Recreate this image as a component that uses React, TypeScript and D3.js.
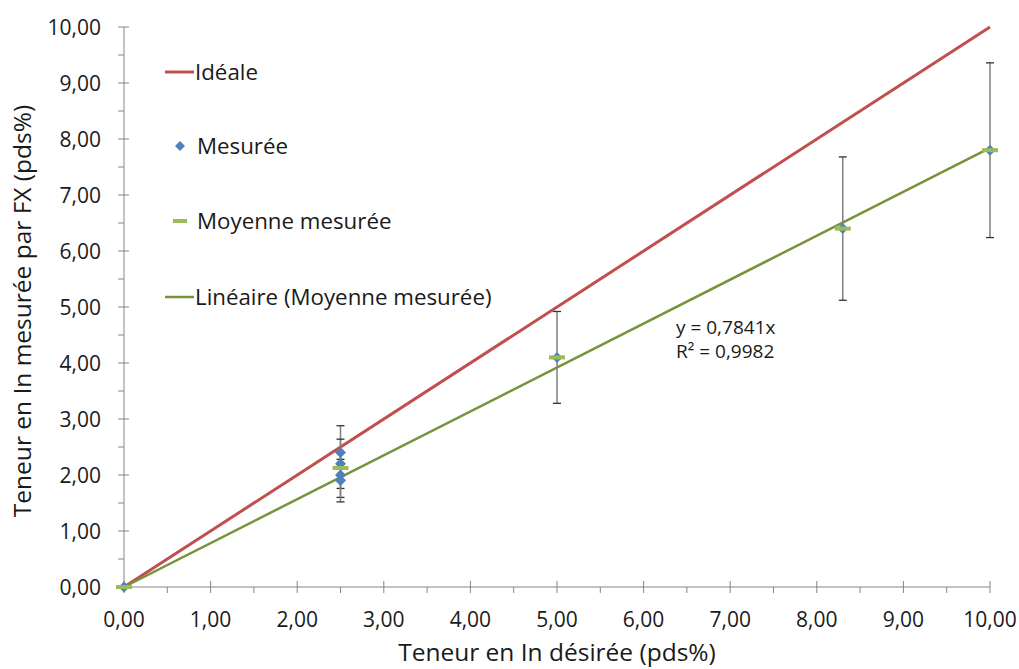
import React from "react";
import * as d3 from "d3";

const idealX = [0, 10];
const idealY = [0, 10];
const measuredX = [0, 2.5, 2.5, 2.5, 2.5, 5, 8.3, 10];
const measuredY = [0, 2.4, 2.2, 2.0, 1.9, 4.1, 6.4, 7.8];
const measuredErr = [0, 0.48, 0.44, 0.4, 0.38, 0.82, 1.28, 1.56];
const meanX = [0, 2.5, 5, 8.3, 10];
const meanY = [0, 2.125, 4.1, 6.4, 7.8];
const trendSlope = 0.7841;
const trendRange = [0, 10];
const xTicks = [0, 1, 2, 3, 4, 5, 6, 7, 8, 9, 10];
const yTicks = [0, 1, 2, 3, 4, 5, 6, 7, 8, 9, 10];
const minorTicks = [0.5, 1.5, 2.5, 3.5, 4.5, 5.5, 6.5, 7.5, 8.5, 9.5];
const legendLabels = ["Idéale", "Mesurée", "Moyenne mesurée", "Linéaire (Moyenne mesurée)"];
const eqLines = ["y = 0,7841x", "R² = 0,9982"];
const xTitle = "Teneur en In désirée (pds%)";
const yTitle = "Teneur en In mesurée par FX (pds%)";

const W = 1019, H = 669;
const FONT = "'Open Sans', sans-serif";
const fmt = (v: number) => v.toFixed(2).replace(".", ",");

function diamondPath(r: number) {
  return `M0,${-r}L${r},0L0,${r}L${-r},0Z`;
}

export default function App() {
  const x = d3.scaleLinear().domain([0, 10]).range([124, 990]);
  const y = d3.scaleLinear().domain([0, 10]).range([587, 27]);
  const line = d3.line<[number, number]>().x(d => x(d[0])).y(d => y(d[1]));
  const ideal: [number, number][] = idealX.map((v, i) => [v, idealY[i]]);
  const trend: [number, number][] = trendRange.map(v => [v, v * trendSlope]);
  const axisColor = "#868686";
  const legY = [72, 146, 221, 297];
  const txt = "#1a1a1a";
  return (
    <svg width={W} height={H} style={{ position: "absolute", left: 0, top: 0, background: "#fff" }}>
      {/* axes */}
      <line x1={x(0)} x2={x(0)} y1={y(0)} y2={y(10)} stroke={axisColor} strokeWidth={1} />
      <line x1={x(0)} x2={x(10)} y1={y(0)} y2={y(0)} stroke={axisColor} strokeWidth={1} />
      {minorTicks.map((t, i) => (
        <g key={"t" + i}>
          <line x1={x(0) - 6} x2={x(0)} y1={y(t)} y2={y(t)} stroke={axisColor} />
          <line x1={x(t)} x2={x(t)} y1={y(0)} y2={y(0) + 6} stroke={axisColor} />
        </g>
      ))}
      {yTicks.map((t, i) => (
        <line key={"ym" + i} x1={x(0) - 6} x2={x(0) + 5} y1={y(t)} y2={y(t)} stroke={axisColor} />
      ))}
      {xTicks.map((t, i) => (
        <line key={"xm" + i} x1={x(t)} x2={x(t)} y1={y(0) - 6} y2={y(0) + 6} stroke={axisColor} />
      ))}
      {yTicks.map((t, i) => (
        <text key={"yl" + i} x={101} y={y(t)} dy="0.36em" textAnchor="end" fontFamily={FONT} fontSize={21} fill={txt}>{fmt(t)}</text>
      ))}
      {xTicks.map((t, i) => (
        <text key={"xl" + i} x={x(t)} y={627} textAnchor="middle" fontFamily={FONT} fontSize={21} fill={txt}>{fmt(t)}</text>
      ))}
      <text x={557} y={661} textAnchor="middle" fontFamily={FONT} fontSize={24.5} fill={txt}>{xTitle}</text>
      <text transform={`translate(31,311) rotate(-90)`} textAnchor="middle" fontFamily={FONT} fontSize={24.5} fill={txt}>{yTitle}</text>

      {/* lines */}
      <path d={line(ideal) || ""} stroke="#C0504D" strokeWidth={3} fill="none" />
      <path d={line(trend) || ""} stroke="#77933C" strokeWidth={2.5} fill="none" />

      {/* error bars */}
      {measuredX.map((mx, i) => measuredErr[i] > 0 && (
        <g key={"e" + i}>
          <line x1={x(mx)} x2={x(mx)} y1={y(measuredY[i] + measuredErr[i])} y2={y(measuredY[i] - measuredErr[i])} stroke="#7f7f7f" strokeWidth={1.5} />
          <line x1={x(mx) - 4} x2={x(mx) + 4} y1={y(measuredY[i] + measuredErr[i])} y2={y(measuredY[i] + measuredErr[i])} stroke="#333" strokeWidth={1.3} />
          <line x1={x(mx) - 4} x2={x(mx) + 4} y1={y(measuredY[i] - measuredErr[i])} y2={y(measuredY[i] - measuredErr[i])} stroke="#333" strokeWidth={1.3} />
        </g>
      ))}

      {/* measured diamonds */}
      {measuredX.map((mx, i) => (
        <path key={"d" + i} d={diamondPath(5.5)} transform={`translate(${x(mx)},${y(measuredY[i])})`} fill="#4F81BD" />
      ))}
      {/* mean dashes */}
      {meanX.map((mx, i) => (
        <rect key={"m" + i} x={x(mx) - 8} y={y(meanY[i]) - 2} width={16} height={4} fill="#9BBB59" />
      ))}

      {/* equation */}
      <text x={676} y={334} fontFamily={FONT} fontSize={19} fill={txt}>{eqLines[0]}</text>
      <text x={676} y={358} fontFamily={FONT} fontSize={19} fill={txt}>{eqLines[1]}</text>

      {/* legend */}
      <line x1={165} x2={194} y1={legY[0]} y2={legY[0]} stroke="#C0504D" strokeWidth={3} />
      <path d={diamondPath(5)} transform={`translate(180,${legY[1]})`} fill="#4F81BD" />
      <rect x={173} y={legY[2] - 2} width={14} height={4} fill="#9BBB59" />
      <line x1={165} x2={194} y1={legY[3]} y2={legY[3]} stroke="#77933C" strokeWidth={2.5} />
      {legendLabels.map((l, i) => (
        <text key={"l" + i} x={i === 0 || i === 3 ? 195 : 197} y={legY[i]} dy="0.36em" fontFamily={FONT} fontSize={22.3} fill={txt}>{l}</text>
      ))}
    </svg>
  );
}
